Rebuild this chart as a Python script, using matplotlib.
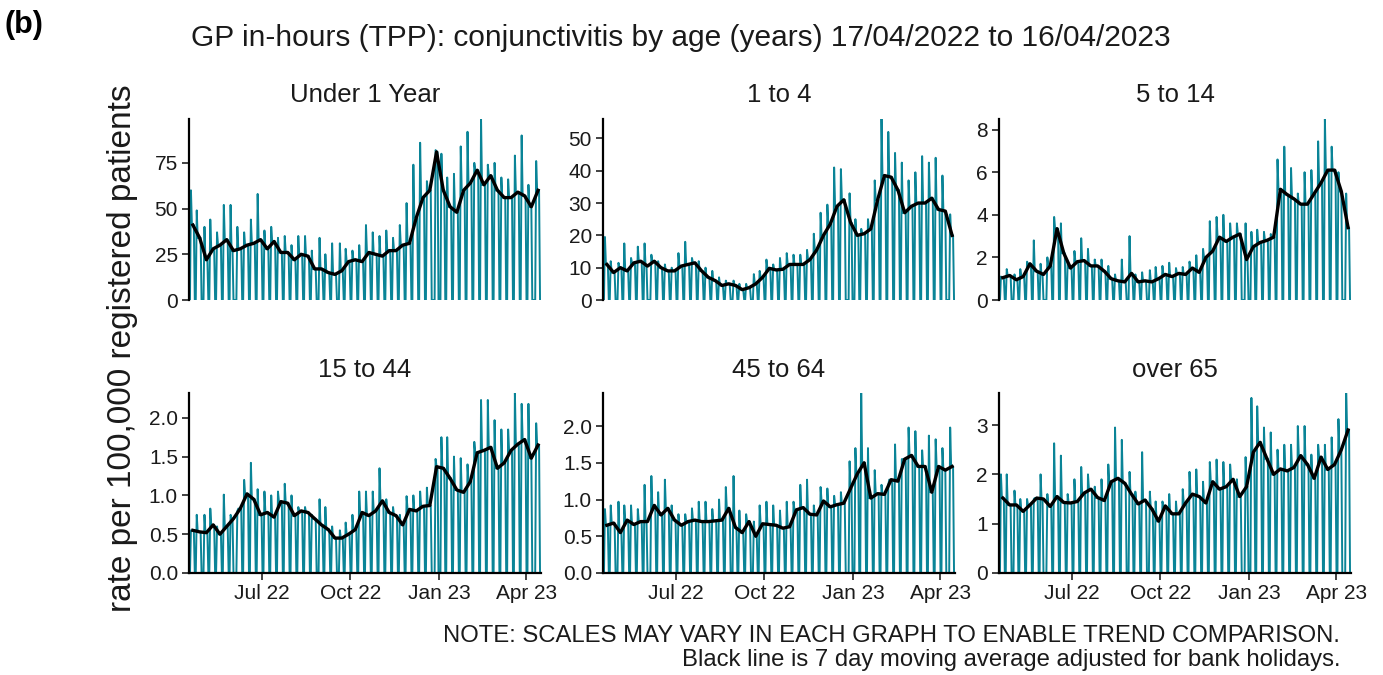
import numpy as np
import pandas as pd
import matplotlib
matplotlib.use('Agg')
import matplotlib.pyplot as plt
import matplotlib.dates as mdates

plt.rcParams['font.family'] = ['Liberation Sans', 'DejaVu Sans']

# period shown: Sun 17/04/2022 .. Sun 16/04/2023, weeks run Mon..Sun from 18/04/2022
start = '2022-04-17'
end = '2023-04-16'
bank_holidays = ['2022-04-18', '2022-05-02', '2022-06-02', '2022-06-03', '2022-08-29',
                 '2022-09-19', '2022-12-26', '2022-12-27', '2023-01-02', '2023-04-07',
                 '2023-04-10']

panel_names = ['Under 1 Year', '1 to 4', '5 to 14', '15 to 44', '45 to 64', 'over 65']

# weekly level of the 7 day average (black line)
u1_avg = [41, 34, 22, 28, 30, 33, 27, 28, 30, 31, 33, 28, 32, 26, 26, 22, 25, 24, 17, 17,
          15, 14, 16, 21, 22, 21, 26, 25, 24, 27, 27, 30, 31, 45, 56, 60, 81, 60, 51, 48,
          60, 64, 71, 63, 68, 60, 56, 56, 59, 57, 51, 60]
a1_4_avg = [11, 8.5, 10, 9, 11.5, 12, 10.5, 12, 10, 9, 9, 10.5, 11, 11.5, 9, 7, 6, 4.5, 5, 4.5,
            3.2, 3.8, 5, 7, 9.8, 9.3, 9.5, 11, 11, 11, 12.5, 15.5, 20, 23.5, 29, 31, 24, 20,
            20.5, 22, 31, 38.5, 38, 34, 27, 29, 30, 30, 31.5, 28, 27.5, 20]
a5_14_avg = [1.05, 1.15, 0.95, 1.1, 1.7, 1.35, 1.2, 1.6, 3.35, 2.2, 1.5, 1.8, 1.85, 1.6, 1.6,
             1.35, 1.0, 0.9, 0.85, 1.25, 0.85, 0.9, 0.85, 1.0, 1.2, 1.1, 1.25, 1.2, 1.5, 1.3,
             2.0, 2.3, 2.95, 2.75, 2.95, 3.1, 1.9, 2.5, 2.7, 2.8, 2.95, 5.2, 4.95, 4.75, 4.5,
             4.5, 5.0, 5.5, 6.1, 6.1, 5.1, 3.4]
a15_44_avg = [0.55, 0.53, 0.52, 0.62, 0.5, 0.6, 0.7, 0.83, 1.02, 0.95, 0.75, 0.78, 0.72, 0.92,
              0.9, 0.74, 0.8, 0.78, 0.7, 0.62, 0.56, 0.45, 0.45, 0.5, 0.56, 0.78, 0.74, 0.8,
              0.93, 0.78, 0.74, 0.62, 0.82, 0.8, 0.86, 0.87, 1.37, 1.35, 1.22, 1.07, 1.04,
              1.18, 1.55, 1.58, 1.62, 1.35, 1.42, 1.58, 1.66, 1.72, 1.48, 1.65]
a45_64_avg = [0.65, 0.68, 0.55, 0.72, 0.66, 0.7, 0.7, 0.92, 0.79, 0.88, 0.72, 0.65, 0.7, 0.72,
              0.7, 0.7, 0.71, 0.72, 0.88, 0.62, 0.55, 0.7, 0.5, 0.67, 0.66, 0.65, 0.61, 0.63,
              0.86, 0.89, 0.8, 0.79, 0.98, 0.9, 0.93, 0.95, 1.15, 1.35, 1.5, 1.02, 1.08, 1.07,
              1.27, 1.25, 1.55, 1.6, 1.45, 1.45, 1.1, 1.45, 1.4, 1.45]
o65_avg = [1.52, 1.38, 1.38, 1.25, 1.38, 1.52, 1.5, 1.35, 1.55, 1.43, 1.42, 1.45, 1.62, 1.7,
           1.53, 1.47, 1.85, 1.92, 1.82, 1.6, 1.4, 1.48, 1.3, 1.05, 1.36, 1.2, 1.2, 1.42, 1.6,
           1.55, 1.42, 1.85, 1.7, 1.75, 1.9, 1.55, 1.75, 2.45, 2.65, 2.32, 2.0, 2.11, 2.07,
           2.14, 2.38, 2.2, 1.92, 2.35, 2.1, 2.2, 2.5, 2.9]

# first working day of each week (the daily spike)
u1_mon = [60, 49, 40, 44, 37, 52, 52, 40, 37, 44, 58, 38, 40, 34, 35, 30, 35, 35, 27, 34,
          25, 31, 31, 28, 27, 30, 41, 37, 35, 38, 34, 41, 53, 74, 86, 65, 82, 80, 67, 69,
          84, 92, 75, 99, 74, 75, 67, 66, 79, 90, 63, 76]
a1_4_mon = [19.5, 12, 11.5, 17.5, 13, 16.5, 17.5, 14, 12, 11, 10, 14.5, 18, 13, 12, 10, 9, 7,
            6, 6, 5, 5, 8, 9, 12.5, 11, 13, 14.5, 14, 14, 15.5, 20.5, 27, 29.5, 41, 40.5, 33,
            25, 22, 25, 37, 56, 52, 45.5, 42.5, 37, 39.5, 44.5, 42.5, 44, 38.5, 26.5]
a5_14_mon = [1.1, 1.45, 1.2, 1.45, 1.8, 2.8, 1.7, 2.0, 3.9, 3.6, 1.8, 2.3, 2.9, 2.4, 1.9, 1.9,
             1.6, 1.2, 1.9, 3.0, 1.2, 1.3, 1.4, 1.55, 1.6, 1.75, 1.5, 1.55, 1.8, 2.1, 2.4, 3.7,
             3.9, 4.0, 3.6, 3.6, 3.6, 3.2, 3.3, 3.2, 3.1, 6.6, 7.2, 6.2, 5.0, 6.0, 6.1, 7.45,
             8.5, 7.2, 6.0, 5.0]
a15_44_mon = [0.55, 0.75, 0.75, 0.83, 0.6, 1.01, 0.75, 0.8, 1.2, 1.42, 1.08, 1.05, 1.0, 1.05,
              1.15, 1.0, 0.85, 0.85, 0.75, 0.95, 0.85, 0.6, 0.55, 0.65, 0.75, 1.05, 1.05, 1.05,
              1.35, 0.95, 0.85, 0.75, 0.99, 1.0, 1.05, 1.1, 1.47, 1.75, 1.75, 1.5, 1.48, 1.4,
              1.69, 2.23, 2.23, 1.97, 1.85, 1.85, 2.32, 2.18, 2.18, 1.93]
a45_64_mon = [0.87, 0.92, 0.97, 0.92, 0.92, 0.87, 1.2, 1.32, 1.1, 1.27, 0.92, 0.8, 0.8, 0.88,
              0.97, 0.97, 0.87, 1.0, 1.17, 1.32, 0.85, 0.8, 0.7, 0.92, 0.97, 0.92, 0.85, 0.97,
              0.97, 1.2, 1.27, 0.92, 1.17, 1.15, 1.05, 1.1, 1.52, 1.7, 2.45, 1.7, 1.4, 1.2, 1.2,
              1.75, 1.55, 1.98, 1.93, 1.67, 1.87, 1.82, 1.7, 1.98]
o65_mon = [2.0, 2.0, 1.67, 1.5, 1.5, 1.5, 2.0, 1.6, 2.63, 2.38, 1.6, 1.9, 2.15, 2.0, 1.75, 1.9,
           2.2, 2.95, 2.7, 2.05, 1.65, 2.45, 1.65, 1.45, 1.45, 1.6, 1.45, 1.7, 2.05, 2.1, 1.85,
           2.25, 2.3, 2.25, 2.2, 1.9, 2.35, 3.55, 3.38, 2.95, 2.85, 2.5, 2.6, 2.6, 2.98, 2.98,
           2.4, 2.6, 2.6, 2.75, 3.12, 3.65]

avgs = [u1_avg, a1_4_avg, a5_14_avg, a15_44_avg, a45_64_avg, o65_avg]
mons = [u1_mon, a1_4_mon, a5_14_mon, a15_44_mon, a45_64_mon, o65_mon]
yticks = [[0, 25, 50, 75], [0, 10, 20, 30, 40, 50], [0, 2, 4, 6, 8],
          [0.0, 0.5, 1.0, 1.5, 2.0], [0.0, 0.5, 1.0, 1.5, 2.0], [0, 1, 2, 3]]
yfmt = ['%d', '%d', '%d', '%.1f', '%.1f', '%d']

days = pd.date_range(start, end, freq='D')
hol = set(pd.to_datetime(bank_holidays))
teal = '#0a8497'


def daily(avg, mon):
    vals = np.zeros(len(days))
    for w in range(len(avg)):
        first = True
        for j in range(5):  # Mon..Fri, weekend stays 0
            i = 1 + 7 * w + j
            if days[i] in hol:
                continue
            vals[i] = mon[w] if first else avg[w]
            first = False
    return vals


W, H = 1383.0, 675.0
cols = [(189, 541), (603, 955), (999, 1351)]
rows = [(119, 300), (393, 573)]

fig = plt.figure(figsize=(13.83, 6.75), dpi=100)

for n in range(6):
    r, c = n // 3, n % 3
    x0, x1 = cols[c]
    yt, yb = rows[r]
    ax = fig.add_axes([x0 / W, 1 - yb / H, (x1 - x0) / W, (yb - yt) / H])
    vals = daily(avgs[n], mons[n])
    ax.plot(days, vals, color=teal, lw=1.4, zorder=2)
    mid = days[4::7][:len(avgs[n])]
    ax.plot(mid, avgs[n], color='black', lw=2.4, zorder=3)

    ax.set_xlim(days[0], days[-1])
    ax.set_ylim(0, vals.max())
    ax.set_yticks(yticks[n])
    ax.set_yticklabels([yfmt[n] % v for v in yticks[n]])
    for s in ['top', 'right']:
        ax.spines[s].set_visible(False)
    ax.spines['left'].set_linewidth(1.6)
    ax.tick_params(axis='y', length=5, width=1.3, color='#333333', labelsize=15,
                   labelcolor='#1a1a1a', pad=3)
    if r == 0:
        ax.spines['bottom'].set_visible(False)
        ax.set_xticks([])
    else:
        ax.spines['bottom'].set_linewidth(1.6)
        ax.xaxis.set_major_locator(mdates.MonthLocator(bymonth=[1, 4, 7, 10]))
        ax.xaxis.set_major_formatter(mdates.DateFormatter('%b %y'))
        ax.tick_params(axis='x', length=5, width=1.3, color='#333333', labelsize=15,
                       labelcolor='#1a1a1a', pad=3)
    ty = 95 if r == 0 else 370
    fig.text((x0 + x1) / 2 / W, 1 - ty / H, panel_names[n], ha='center', va='center',
             fontsize=18.5, color='#1a1a1a')

fig.text(681 / W, 1 - 38 / H,
         'GP in-hours (TPP): conjunctivitis by age (years) 17/04/2022 to 16/04/2023',
         ha='center', va='center', fontsize=21.5, color='#1a1a1a')
fig.text(5 / W, 1 - 25 / H, '(b)', ha='left', va='center', fontsize=22, fontweight='bold')
fig.text(122 / W, 1 - 348 / H, 'rate per 100,000 registered patients', rotation=90,
         ha='center', va='center', fontsize=24, color='#1a1a1a')
fig.text(1340 / W, 1 - 636 / H,
         'NOTE: SCALES MAY VARY IN EACH GRAPH TO ENABLE TREND COMPARISON.',
         ha='right', va='center', fontsize=17.2, color='#1a1a1a')
fig.text(1340 / W, 1 - 660 / H,
         'Black line is 7 day moving average adjusted for bank holidays.',
         ha='right', va='center', fontsize=17.2, color='#1a1a1a')

fig.savefig('out.png', dpi=100)
